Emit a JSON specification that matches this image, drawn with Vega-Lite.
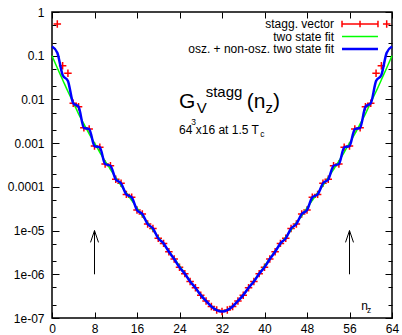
{
  "$schema": "https://vega.github.io/schema/vega-lite/v6.json",
  "width": 340,
  "height": 306,
  "autosize": "none",
  "padding": {"left": 52, "top": 12, "right": 10, "bottom": 17},
  "background": "white",
  "config": {
    "view": {"stroke": "black", "strokeWidth": 1.5},
    "font": "Liberation Sans",
    "text": {"font": "Liberation Sans", "color": "black"}
  },
  "datasets": {
    "points": [
      {"n":1,"G":0.5309},{"n":2,"G":0.05902},{"n":3,"G":0.03954},{"n":4,"G":0.008147},{"n":5,"G":0.006808},
      {"n":6,"G":0.002249},{"n":7,"G":0.002104},{"n":8,"G":0.000859},{"n":9,"G":0.0008017},{"n":10,"G":0.0003327},
      {"n":11,"G":0.0003041},{"n":12,"G":0.0001486},{"n":13,"G":0.0001202},{"n":14,"G":6.73e-5},{"n":15,"G":5.754e-5},
      {"n":16,"G":2.944e-5},{"n":17,"G":2.388e-5},{"n":18,"G":1.409e-5},{"n":19,"G":1.122e-5},{"n":20,"G":6.637e-6},
      {"n":21,"G":5.093e-6},{"n":22,"G":3.273e-6},{"n":23,"G":2.239e-6},{"n":24,"G":1.445e-6},{"n":25,"G":1.035e-6},
      {"n":26,"G":6.839e-7},{"n":27,"G":4.898e-7},{"n":28,"G":3.334e-7},{"n":29,"G":2.455e-7},{"n":30,"G":1.828e-7},
      {"n":31,"G":1.521e-7},{"n":32,"G":1.413e-7},{"n":33,"G":1.521e-7},{"n":34,"G":1.828e-7},{"n":35,"G":2.455e-7},
      {"n":36,"G":3.334e-7},{"n":37,"G":4.898e-7},{"n":38,"G":6.839e-7},{"n":39,"G":1.035e-6},{"n":40,"G":1.445e-6},
      {"n":41,"G":2.239e-6},{"n":42,"G":3.273e-6},{"n":43,"G":5.093e-6},{"n":44,"G":6.637e-6},{"n":45,"G":1.122e-5},
      {"n":46,"G":1.409e-5},{"n":47,"G":2.388e-5},{"n":48,"G":2.944e-5},{"n":49,"G":5.754e-5},{"n":50,"G":6.73e-5},
      {"n":51,"G":0.0001202},{"n":52,"G":0.0001486},{"n":53,"G":0.0003041},{"n":54,"G":0.0003327},{"n":55,"G":0.0008017},
      {"n":56,"G":0.000859},{"n":57,"G":0.002104},{"n":58,"G":0.002249},{"n":59,"G":0.006808},{"n":60,"G":0.008147},
      {"n":61,"G":0.03954},{"n":62,"G":0.05902},{"n":63,"G":0.5309}
    ],
    "blue": [
      {"n":0,"G":0.1622},{"n":1,"G":0.1175},{"n":2,"G":0.0363},{"n":3,"G":0.0263},{"n":4,"G":0.008147},{"n":5,"G":0.006808},
      {"n":6,"G":0.002249},{"n":7,"G":0.002104},{"n":8,"G":0.000859},{"n":9,"G":0.0008017},{"n":10,"G":0.0003327},
      {"n":11,"G":0.0003041},{"n":12,"G":0.0001486},{"n":13,"G":0.0001202},{"n":14,"G":6.73e-5},{"n":15,"G":5.754e-5},
      {"n":16,"G":2.944e-5},{"n":17,"G":2.388e-5},{"n":18,"G":1.409e-5},{"n":19,"G":1.122e-5},{"n":20,"G":6.637e-6},
      {"n":21,"G":5.093e-6},{"n":22,"G":3.273e-6},{"n":23,"G":2.239e-6},{"n":24,"G":1.445e-6},{"n":25,"G":1.035e-6},
      {"n":26,"G":6.839e-7},{"n":27,"G":4.898e-7},{"n":28,"G":3.334e-7},{"n":29,"G":2.455e-7},{"n":30,"G":1.828e-7},
      {"n":31,"G":1.521e-7},{"n":32,"G":1.413e-7},{"n":33,"G":1.521e-7},{"n":34,"G":1.828e-7},{"n":35,"G":2.455e-7},
      {"n":36,"G":3.334e-7},{"n":37,"G":4.898e-7},{"n":38,"G":6.839e-7},{"n":39,"G":1.035e-6},{"n":40,"G":1.445e-6},
      {"n":41,"G":2.239e-6},{"n":42,"G":3.273e-6},{"n":43,"G":5.093e-6},{"n":44,"G":6.637e-6},{"n":45,"G":1.122e-5},
      {"n":46,"G":1.409e-5},{"n":47,"G":2.388e-5},{"n":48,"G":2.944e-5},{"n":49,"G":5.754e-5},{"n":50,"G":6.73e-5},
      {"n":51,"G":0.0001202},{"n":52,"G":0.0001486},{"n":53,"G":0.0003041},{"n":54,"G":0.0003327},{"n":55,"G":0.0008017},
      {"n":56,"G":0.000859},{"n":57,"G":0.002104},{"n":58,"G":0.002249},{"n":59,"G":0.006808},{"n":60,"G":0.008147},
      {"n":61,"G":0.0263},{"n":62,"G":0.0363},{"n":63,"G":0.1175},{"n":64,"G":0.1622}
    ],
    "green": [
      {"n":0,"G":0.1},{"n":1,"G":0.05248},{"n":2,"G":0.02818},{"n":3,"G":0.01514},{"n":4,"G":0.008511},{"n":5,"G":0.004677},
      {"n":6,"G":0.002754},{"n":7,"G":0.001622},{"n":8,"G":0.001},{"n":9,"G":0.0006166},{"n":10,"G":0.000389},
      {"n":11,"G":0.0002512},{"n":12,"G":0.0001622},{"n":13,"G":0.0001072},{"n":14,"G":7.244e-5},{"n":15,"G":4.898e-5},
      {"n":16,"G":3.311e-5},{"n":17,"G":2.188e-5},{"n":18,"G":1.514e-5},{"n":19,"G":1.023e-5},{"n":20,"G":7.079e-6},
      {"n":21,"G":4.898e-6},{"n":22,"G":3.388e-6},{"n":23,"G":2.291e-6},{"n":24,"G":1.549e-6},{"n":25,"G":1.047e-6},
      {"n":26,"G":7.079e-7},{"n":27,"G":4.898e-7},{"n":28,"G":3.388e-7},{"n":29,"G":2.455e-7},{"n":30,"G":1.862e-7},
      {"n":31,"G":1.531e-7},{"n":32,"G":1.429e-7},{"n":33,"G":1.531e-7},{"n":34,"G":1.862e-7},{"n":35,"G":2.455e-7},
      {"n":36,"G":3.388e-7},{"n":37,"G":4.898e-7},{"n":38,"G":7.079e-7},{"n":39,"G":1.047e-6},{"n":40,"G":1.549e-6},
      {"n":41,"G":2.291e-6},{"n":42,"G":3.388e-6},{"n":43,"G":4.898e-6},{"n":44,"G":7.079e-6},{"n":45,"G":1.023e-5},
      {"n":46,"G":1.514e-5},{"n":47,"G":2.188e-5},{"n":48,"G":3.311e-5},{"n":49,"G":4.898e-5},{"n":50,"G":7.244e-5},
      {"n":51,"G":0.0001072},{"n":52,"G":0.0001622},{"n":53,"G":0.0002512},{"n":54,"G":0.000389},{"n":55,"G":0.0006166},
      {"n":56,"G":0.001},{"n":57,"G":0.001622},{"n":58,"G":0.002754},{"n":59,"G":0.004677},{"n":60,"G":0.008511},
      {"n":61,"G":0.01514},{"n":62,"G":0.02818},{"n":63,"G":0.05248},{"n":64,"G":0.1}
    ],
    "arrows": [
      {"n":8,"G":1e-6,"n2":8,"G2":1e-5},
      {"n":8,"G":1e-5,"n2":7.25,"G2":5.37e-6},
      {"n":8,"G":1e-5,"n2":8.75,"G2":5.37e-6},
      {"n":56,"G":1e-6,"n2":56,"G2":1e-5},
      {"n":56,"G":1e-5,"n2":55.25,"G2":5.37e-6},
      {"n":56,"G":1e-5,"n2":56.75,"G2":5.37e-6}
    ],
    "annotBig": [
      {"n":23.91,"G":0.006256,"label":"G"},
      {"n":36.65,"G":0.006256,"label":"(n"},
      {"n":41.58,"G":0.006256,"label":")"}
    ],
    "annotMid": [
      {"n":27.24,"G":0.004808,"label":"V"},
      {"n":28.93,"G":0.01117,"label":"stagg"},
      {"n":40.17,"G":0.004808,"label":"z"}
    ],
    "annotSmall": [
      {"n":23.91,"G":0.001615,"label":"64"},
      {"n":27.05,"G":0.001615,"label":"x16 at 1.5 T"},
      {"n":58.22,"G":1.517e-7,"label":"n"}
    ],
    "annotTiny": [
      {"n":26.22,"G":0.002596,"label":"3"},
      {"n":39.2,"G":0.001358,"label":"c"},
      {"n":59.29,"G":1.294e-7,"label":"z"}
    ],
    "legendText": [
      {"n":53.08,"G":0.5313,"label":"stagg. vector"},
      {"n":53.08,"G":0.275,"label":"two state fit"},
      {"n":53.08,"G":0.1423,"label":"osz. + non-osz. two state fit"}
    ],
    "legendRed": [{"n":54.59,"G":0.5313,"n2":61.36}],
    "legendRedTicks": [{"n":54.59,"G":0.5313},{"n":57.98,"G":0.5313},{"n":61.36,"G":0.5313}],
    "legendGreen": [{"n":54.59,"G":0.275,"n2":61.36}],
    "legendBlue": [{"n":54.59,"G":0.1423,"n2":61.36}]
  },
  "encoding": {
    "x": {
      "field": "n", "type": "quantitative",
      "scale": {"domain": [0, 64], "nice": false, "zero": false},
      "axis": {
        "title": null, "values": [0,8,16,24,32,40,48,56,64],
        "ticks": false, "domain": false,
        "grid": true, "gridColor": "black", "gridWidth": 1, "gridOpacity": 1, "gridDash": [6, 294, 6],
        "labelFont": "Liberation Sans", "labelFontSize": 12, "labelColor": "black",
        "labelPadding": 5, "labelFlush": false, "labelOverlap": false
      }
    },
    "y": {
      "field": "G", "type": "quantitative",
      "scale": {"type": "log", "domain": [1e-7, 1], "nice": false},
      "axis": {
        "title": null,
        "values": [1e-7,2e-7,5e-7,1e-6,2e-6,5e-6,1e-5,2e-5,5e-5,0.0001,0.0002,0.0005,0.001,0.002,0.005,0.01,0.02,0.05,0.1,0.2,0.5,1],
        "ticks": false, "domain": false,
        "grid": true, "gridColor": "black", "gridWidth": 1, "gridOpacity": 1,
        "gridDash": {"condition": {"test": "abs(log(datum.value)/LN10 - round(log(datum.value)/LN10)) < 0.01", "value": [7, 326, 7]}, "value": [4, 332, 4]},
        "labelExpr": "abs(log(datum.value)/LN10 - round(log(datum.value)/LN10)) > 0.01 ? '' : (round(log(datum.value)/LN10) >= -4 ? format(datum.value, '') : '1e-0' + toString(-round(log(datum.value)/LN10)))",
        "labelFont": "Liberation Sans", "labelFontSize": 12, "labelColor": "black",
        "labelPadding": 8, "labelOverlap": false, "labelFlush": false
      }
    }
  },
  "layer": [
    {
      "data": {"name": "points"},
      "mark": {"type": "point", "shape": "M-1,0L1,0M0,-1L0,1", "size": 56, "filled": false, "stroke": "#ff0000", "strokeWidth": 1.5, "opacity": 1}
    },
    {
      "data": {"name": "green"},
      "mark": {"type": "line", "color": "#00ff00", "strokeWidth": 1.5, "interpolate": "monotone"}
    },
    {
      "data": {"name": "blue"},
      "mark": {"type": "line", "color": "#0000ff", "strokeWidth": 2.5, "interpolate": "monotone"}
    },
    {
      "data": {"name": "arrows"},
      "mark": {"type": "rule", "color": "black", "strokeWidth": 1},
      "encoding": {"x2": {"field": "n2"}, "y2": {"field": "G2"}}
    },
    {
      "data": {"name": "annotBig"},
      "mark": {"type": "text", "fontSize": 21, "align": "left", "baseline": "alphabetic"},
      "encoding": {"text": {"field": "label"}}
    },
    {
      "data": {"name": "annotMid"},
      "mark": {"type": "text", "fontSize": 15, "align": "left", "baseline": "alphabetic"},
      "encoding": {"text": {"field": "label"}}
    },
    {
      "data": {"name": "annotSmall"},
      "mark": {"type": "text", "fontSize": 12, "align": "left", "baseline": "alphabetic"},
      "encoding": {"text": {"field": "label"}}
    },
    {
      "data": {"name": "annotTiny"},
      "mark": {"type": "text", "fontSize": 8.5, "align": "left", "baseline": "alphabetic"},
      "encoding": {"text": {"field": "label"}}
    },
    {
      "data": {"name": "legendText"},
      "mark": {"type": "text", "fontSize": 12, "align": "right", "baseline": "middle"},
      "encoding": {"text": {"field": "label"}}
    },
    {
      "data": {"name": "legendRed"},
      "mark": {"type": "rule", "color": "#ff0000", "strokeWidth": 1.5},
      "encoding": {"x2": {"field": "n2"}}
    },
    {
      "data": {"name": "legendRedTicks"},
      "mark": {"type": "point", "shape": "M0,-1L0,1", "size": 40, "filled": false, "stroke": "#ff0000", "strokeWidth": 1.5, "opacity": 1}
    },
    {
      "data": {"name": "legendGreen"},
      "mark": {"type": "rule", "color": "#00ff00", "strokeWidth": 1.5},
      "encoding": {"x2": {"field": "n2"}}
    },
    {
      "data": {"name": "legendBlue"},
      "mark": {"type": "rule", "color": "#0000ff", "strokeWidth": 2.5},
      "encoding": {"x2": {"field": "n2"}}
    }
  ]
}
